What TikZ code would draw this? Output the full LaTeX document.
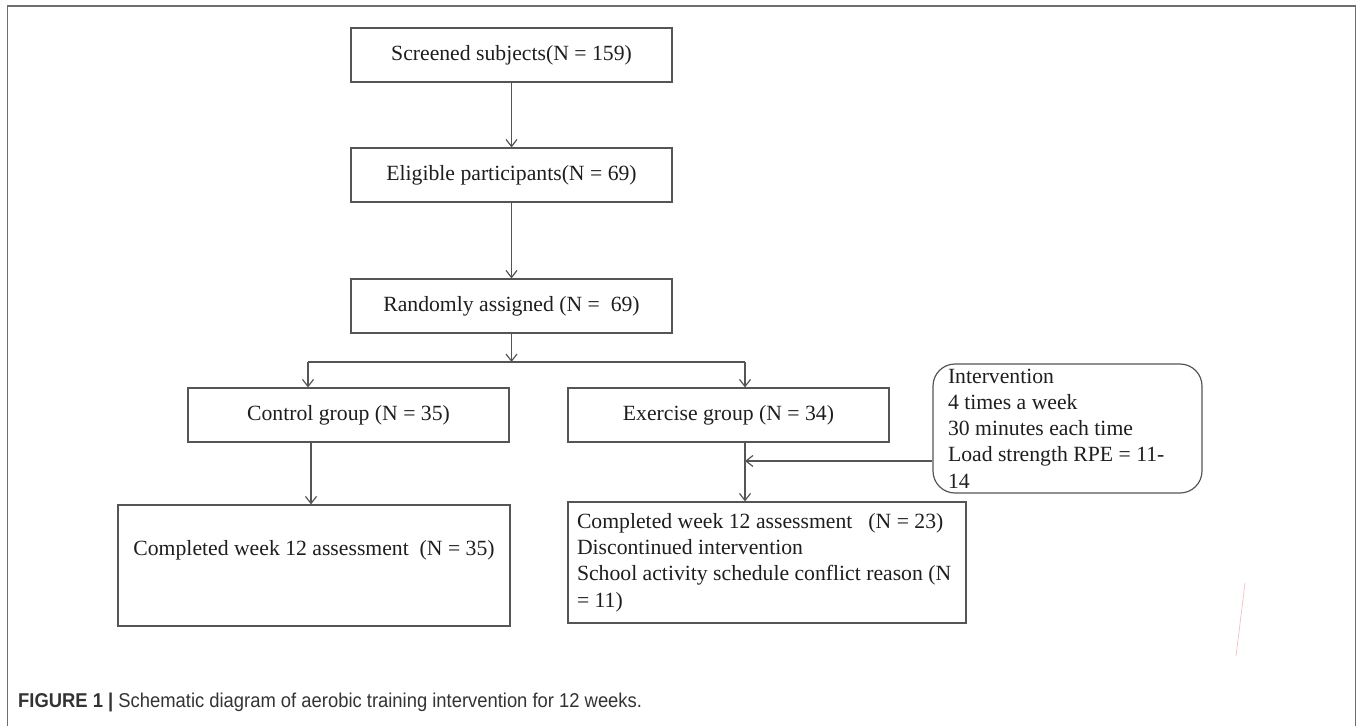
\documentclass[tikz,border=0pt]{standalone}
\usepackage{fontspec}
\setmainfont{Liberation Serif}
\newfontfamily\capfont[FakeStretch=0.92]{Liberation Sans}
\usetikzlibrary{arrows.meta}
\definecolor{linegray}{HTML}{555555}
\definecolor{framegray}{HTML}{6E6E6E}
\definecolor{txtgray}{HTML}{1E1E1E}
\definecolor{capgray}{HTML}{333333}
\definecolor{pinkline}{HTML}{F3C6C6}
\tikzset{
  flowbox/.style={draw=linegray, line width=1.2pt, minimum width=321pt,
    minimum height=54pt, inner sep=0pt, text=txtgray,
    font=\fontsize{21.7}{26.3}\selectfont},
  flowline/.style={draw=linegray, line width=1.2pt},
  flowarrow/.style={flowline, -{Straight Barb[length=7pt,width=11pt]}},
}

\begin{document}
\begin{tikzpicture}[x=1pt,y=-1pt]
  \useasboundingbox (0,0) rectangle (1357,726);
  % frame round the figure
  \draw[framegray,line width=1.5pt] (7.5,726) -- (7.5,6) -- (1355.5,6) -- (1355.5,726);
  % main column
  \node[flowbox] (scr)  at (511.5,55)  {Screened subjects(N = 159)};
  \node[flowbox] (elig) at (511.5,175) {Eligible participants(N = 69)};
  \node[flowbox] (rand) at (511.5,306) {Randomly assigned (N =\ \ 69)};
  % two groups
  \node[flowbox] (ctl) at (348.5,415) {Control group (N = 35)};
  \node[flowbox] (exe) at (728.5,415) {Exercise group (N = 34)};
  \node[flowbox, minimum width=392pt, minimum height=121pt, align=center]
    (ctldone) at (314,565.5) {Completed week 12 assessment\ \ (N = 35)\\ \strut};
  \node[flowbox, minimum height=121pt, text width=380pt, inner xsep=9pt, align=flush left]
    (exedone) at (767,562.5) {\mbox{Completed week 12 assessment\hspace*{16pt}(N = 23)}\\
    Discontinued intervention\\ \mbox{School activity schedule conflict reason (N}\\ = 11)};
  \node[flowbox, rounded corners=22pt, minimum width=269pt, minimum height=129pt,
    text width=239pt, inner xsep=15pt, align=flush left] (intv) at (1067.5,428.5)
    {Intervention\\ 4 times a week\\ 30 minutes each time\\ Load strength RPE = 11-\\ 14};
  % connectors
  \coordinate (split) at (511.5,362);
  \coordinate (ctlin) at (308,362);
  \coordinate (exein) at (745,362);
  \draw[flowarrow] (scr) -- (elig);
  \draw[flowarrow] (elig) -- (rand);
  \draw[flowarrow] (rand) -- (split);
  \draw[flowline] (ctlin) -- (exein);
  \draw[flowarrow] (ctlin) -- (ctlin |- ctl.north);
  \draw[flowarrow] (exein) -- (exein |- exe.north);
  \draw[flowarrow] ([xshift=-37.5pt]ctl.south) -- ([xshift=-37.5pt]ctl.south |- ctldone.north);
  \draw[flowarrow] ([xshift=16.5pt]exe.south) -- ([xshift=16.5pt]exe.south |- exedone.north);
  \draw[flowarrow] ([yshift=-32.5pt]intv.west) -- ([yshift=-32.5pt]intv.west -| exein);
  % stray mark
  \draw[pinkline,line width=0.8pt] (1245,583) -- (1236,656);
  % caption
  \node[anchor=west, inner sep=0pt, text=capgray, font=\capfont\fontsize{20}{23}\selectfont]
    (cap) at (18,702) {\textbf{FIGURE 1 |} Schematic diagram of aerobic training intervention for 12 weeks.};
\end{tikzpicture}
\end{document}
